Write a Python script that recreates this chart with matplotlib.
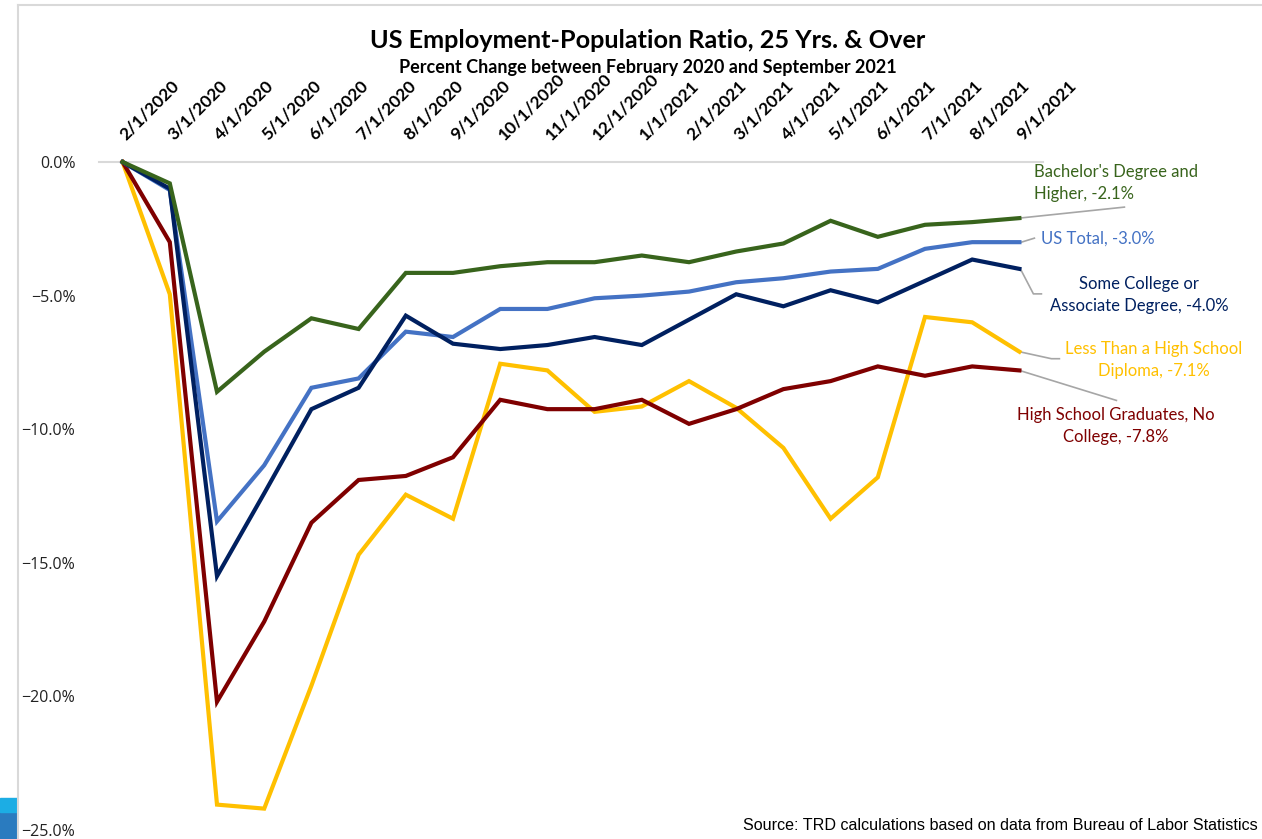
import matplotlib.pyplot as plt
import matplotlib.transforms as mtransforms
from matplotlib.lines import Line2D
from matplotlib.patches import Rectangle
from matplotlib.ticker import PercentFormatter

# months shown on the category axis
months = ['2/1/2020', '3/1/2020', '4/1/2020', '5/1/2020', '6/1/2020', '7/1/2020',
          '8/1/2020', '9/1/2020', '10/1/2020', '11/1/2020', '12/1/2020', '1/1/2021',
          '2/1/2021', '3/1/2021', '4/1/2021', '5/1/2021', '6/1/2021', '7/1/2021',
          '8/1/2021', '9/1/2021']

# percent change from Feb 2020
less_hs = [0, -4.95, -24.05, -24.2, -19.6, -14.7, -12.45, -13.35, -7.55, -7.8,
           -9.35, -9.15, -8.2, -9.2, -10.7, -13.35, -11.8, -5.8, -6.0, -7.1]
hs_grad = [0, -3.0, -20.2, -17.2, -13.5, -11.9, -11.75, -11.05, -8.9, -9.25,
           -9.25, -8.9, -9.8, -9.25, -8.5, -8.2, -7.65, -8.0, -7.65, -7.8]
us_total = [0, -1.05, -13.45, -11.35, -8.45, -8.1, -6.35, -6.55, -5.5, -5.5,
            -5.1, -5.0, -4.85, -4.5, -4.35, -4.1, -4.0, -3.25, -3.0, -3.0]
some_college = [0, -1.0, -15.5, -12.4, -9.25, -8.45, -5.75, -6.8, -7.0, -6.85,
                -6.55, -6.85, -5.9, -4.95, -5.4, -4.8, -5.25, -4.45, -3.65, -4.0]
bachelors = [0, -0.8, -8.6, -7.1, -5.85, -6.25, -4.15, -4.15, -3.9, -3.75,
             -3.75, -3.5, -3.75, -3.35, -3.05, -2.2, -2.8, -2.35, -2.25, -2.1]

# (values, colour, label, text offset px, text align, leader offsets px)
series = [
    (less_hs, '#FFC000', 'Less Than a High School\nDiploma, -7.1%', (134, 8), 'center',
     [(0, 0), (32, 7), (40, 7)]),
    (hs_grad, '#7F0000', 'High School Graduates, No\nCollege, -7.8%', (96, 56), 'center',
     [(0, 0), (97, 30)]),
    (us_total, '#4472C4', 'US Total, -3.0%', (22, -4), 'left',
     [(2, 0), (15, -4)]),
    (some_college, '#002060', 'Some College or\nAssociate Degree, -4.0%', (120, 26), 'center',
     [(1, 0), (14, 25), (22, 25)]),
    (bachelors, '#38641C', "Bachelor's Degree and\nHigher, -2.1%", (15, -35), 'left',
     [(0, 0), (105, -11)]),
]

W, H = 1262, 839
fig = plt.figure(figsize=(W / 100, H / 100), dpi=100)
ax = fig.add_axes([99 / W, 1 - 830 / H, (1043 - 99) / W, (830 - 162) / H])

x = list(range(len(months)))
for vals, col, lab, toff, ha, leader in series:
    ax.plot(x, vals, color=col, lw=3.0, solid_joinstyle='miter', clip_on=False, zorder=3)

ax.set_xlim(-0.5, len(months) - 0.5)
ax.set_ylim(-25, 0)
ax.yaxis.set_major_formatter(PercentFormatter(decimals=1))
ax.set_yticks([0, -5, -10, -15, -20, -25])
ax.tick_params(axis='y', length=0, pad=17, labelsize=11.5, labelcolor='#222222')
for t in ax.get_yticklabels():
    t.set_fontfamily('Open Sans')

ax.xaxis.tick_top()
ax.set_xticks(x)
ax.set_xticklabels(months, rotation=45, ha='left', va='bottom',
                   rotation_mode='anchor', fontsize=12.5, fontweight='bold',
                   fontfamily='Lato')
ax.tick_params(axis='x', length=0, pad=14)
# nudge the slanted labels a little to the right
shift = mtransforms.ScaledTranslation(6 / 100, 0, fig.dpi_scale_trans)
for t in ax.get_xticklabels():
    t.set_transform(t.get_transform() + shift)

for s in ['left', 'right', 'bottom']:
    ax.spines[s].set_visible(False)
ax.spines['top'].set_color('#d9d9d9')
ax.spines['top'].set_linewidth(1.5)
ax.spines['top'].set_zorder(1)

# end-of-line labels with leader lines (pixel offsets -> data units)
px_x = (len(months)) / (1043 - 99)
px_y = 25 / (830 - 162)
last = len(months) - 1
for vals, col, lab, toff, ha, leader in series:
    y0 = vals[-1]
    lx = [last + dx * px_x for dx, dy in leader]
    ly = [y0 - dy * px_y for dx, dy in leader]
    ax.plot(lx, ly, color='#a6a6a6', lw=1.2, clip_on=False, zorder=2)
    ax.text(last + toff[0] * px_x, y0 - toff[1] * px_y, lab, color=col,
            ha=ha, va='center', fontsize=12, fontfamily='Lato',
            linespacing=1.45, clip_on=False)

fig.text(648 / W, 1 - 40 / H, 'US Employment-Population Ratio, 25 Yrs. & Over',
         ha='center', va='center', fontsize=18.2, fontweight='bold', fontfamily='Lato')
fig.text(648 / W, 1 - 67 / H, 'Percent Change between February 2020 and September 2021',
         ha='center', va='center', fontsize=13, fontweight='bold', fontfamily='Lato')
fig.text(1258 / W, 1 - 825 / H,
         'Source: TRD calculations based on data from Bureau of Labor Statistics',
         ha='right', va='center', fontsize=11.6, fontfamily='Liberation Sans')

# chart frame and screenshot edge
fig.add_artist(Line2D([18 / W, 1], [1 - 5 / H, 1 - 5 / H], color='#d9d9d9', lw=1.5))
fig.add_artist(Line2D([18 / W, 18 / W], [0, 1 - 5 / H], color='#d9d9d9', lw=1.5))
fig.add_artist(Rectangle((0, 0), 17 / W, 27 / H, color='#2A7BBF', transform=fig.transFigure))
fig.add_artist(Rectangle((0, 27 / H), 17 / W, 14 / H, color='#1CADE4', transform=fig.transFigure))

plt.savefig('out.png', dpi=100)
plt.close()
